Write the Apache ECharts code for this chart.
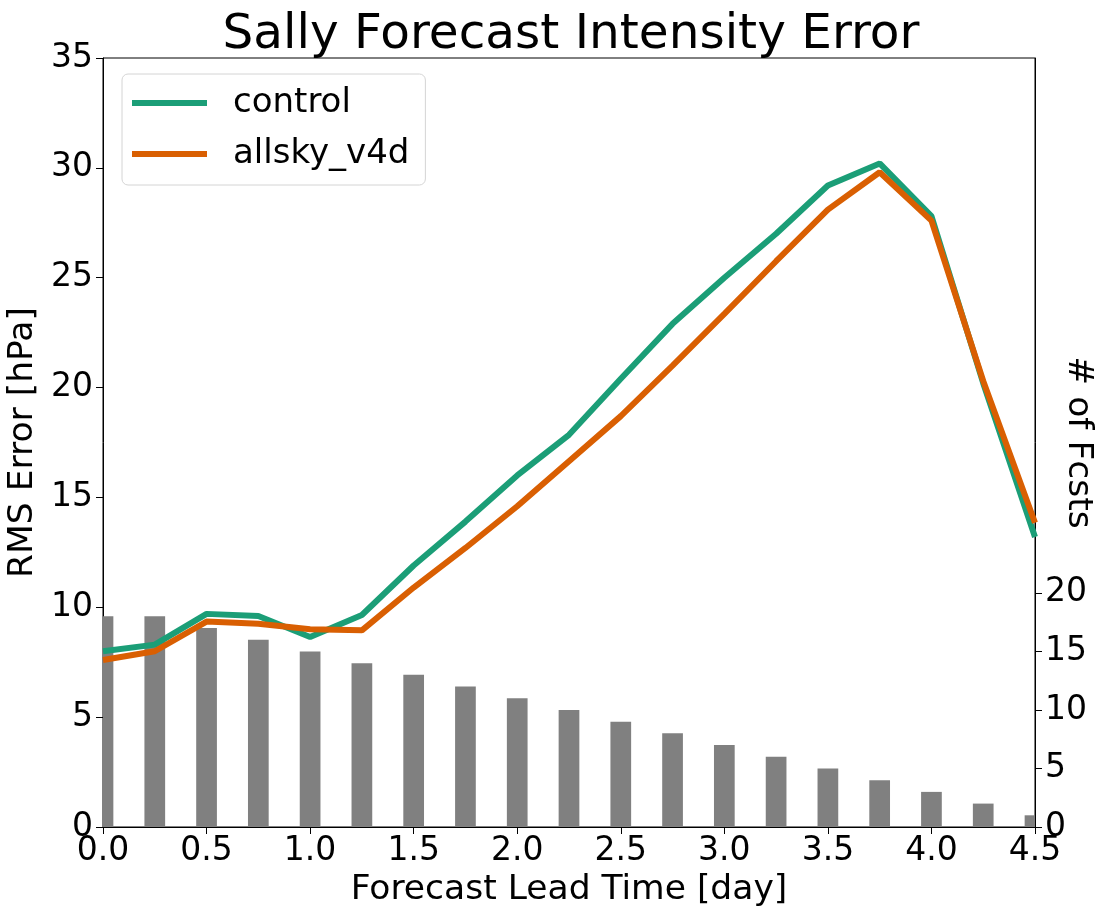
<!DOCTYPE html>
<html>
<head>
<meta charset="utf-8">
<script src="https://cdn.jsdelivr.net/npm/echarts@6/dist/echarts.min.js"></script>
<style>
    html, body { margin: 0; padding: 0; background: #fff; }
    #chart { width: 1103px; height: 920px; }
</style>
</head>
<body>
<div id="chart"></div>
<script>
// lead times in days
var leadTime = [0, 0.25, 0.5, 0.75, 1.0, 1.25, 1.5, 1.75, 2.0, 2.25, 2.5, 2.75, 3.0, 3.25, 3.5, 3.75, 4.0, 4.25, 4.5];
// RMS error [hPa]
var control = [8.0, 8.3, 9.7, 9.6, 8.65, 9.65, 11.9, 13.9, 16.0, 17.85, 20.4, 22.9, 25.0, 27.0, 29.2, 30.2, 27.8, 20.2, 13.2];
var allsky = [7.6, 8.0, 9.35, 9.25, 9.0, 8.95, 10.9, 12.7, 14.6, 16.65, 18.7, 21.0, 23.35, 25.75, 28.1, 29.8, 27.6, 20.3, 13.85];
// number of forecasts
var fcstCount = [18, 18, 17, 16, 15, 14, 13, 12, 11, 10, 9, 8, 7, 6, 5, 4, 3, 2, 1];
var countTicks = [0, 5, 10, 15, 20];

var barHalfWidth = 0.05; // days

function pairs(xs, ys) {
    return xs.map(function (x, i) { return [x, ys[i]]; });
}

// bars drawn in axis units and clipped to the plot area (matplotlib style)
function renderBar(params, api) {
    var x = api.value(0);
    var y = api.value(1);
    var p0 = api.coord([x - barHalfWidth, 0]);
    var p1 = api.coord([x + barHalfWidth, y]);
    var rect = echarts.graphic.clipRectByRect({
        x: p0[0],
        y: p1[1],
        width: p1[0] - p0[0],
        height: p0[1] - p1[1]
    }, {
        x: params.coordSys.x,
        y: params.coordSys.y,
        width: params.coordSys.width,
        height: params.coordSys.height
    });
    return rect && {
        type: 'rect',
        shape: rect,
        style: { fill: '#808080' }
    };
}

var font = 'DejaVu Sans';
var chart = echarts.init(document.getElementById('chart'));

var option = {
    animation: false,
    textStyle: { fontFamily: font, color: '#000' },
    title: {
        text: 'Sally Forecast Intensity Error',
        left: 566,
        textAlign: 'center',
        top: 6,
        textStyle: { fontFamily: font, fontSize: 48.5, fontWeight: 'normal', color: '#000' }
    },
    legend: {
        orient: 'vertical',
        left: 122,
        top: 74,
        padding: [12, 16, 14, 10],
        itemGap: 17,
        itemWidth: 75,
        itemHeight: 6,
        icon: 'rect',
        borderColor: '#d4d4d4',
        borderWidth: 1,
        borderRadius: 6,
        backgroundColor: 'rgba(255,255,255,0.8)',
        data: ['control', 'allsky_v4d'],
        textStyle: { fontFamily: font, fontSize: 34, color: '#000', padding: [0, 0, 0, 21] }
    },
    grid: {
        left: 103,
        right: 68,
        top: 58,
        bottom: 93,
        outerBoundsMode: 'none',
        containLabel: false,
        show: true,
        borderColor: '#000',
        borderWidth: 1,
        backgroundColor: 'transparent'
    },
    xAxis: {
        type: 'value',
        min: 0,
        max: 4.5,
        interval: 0.5,
        name: 'Forecast Lead Time [day]',
        nameLocation: 'middle',
        nameGap: 46,
        nameTextStyle: { fontFamily: font, fontSize: 34.5, color: '#000' },
        axisLine: { show: true, lineStyle: { color: '#000', width: 1 } },
        axisTick: { show: true, length: 7, lineStyle: { color: '#000' } },
        axisLabel: {
            fontFamily: font, fontSize: 33, color: '#000', margin: 8,
            formatter: function (v) { return v.toFixed(1); }
        },
        splitLine: { show: false }
    },
    yAxis: [
        {
            type: 'value',
            min: 0,
            max: 35,
            interval: 5,
            position: 'left',
            name: 'RMS Error [hPa]',
            nameLocation: 'middle',
            nameGap: 59,
            nameTextStyle: { fontFamily: font, fontSize: 34.5, color: '#000' },
            axisLine: { show: true, lineStyle: { color: '#000', width: 1 } },
            axisTick: { show: true, length: 7, lineStyle: { color: '#000' } },
            axisLabel: { fontFamily: font, fontSize: 33, color: '#000', margin: 10 },
            splitLine: { show: false }
        },
        {
            type: 'value',
            min: 0,
            max: 65.7,
            position: 'right',
            name: '# of Fcsts',
            nameLocation: 'middle',
            nameRotate: -90,
            nameGap: 25,
            nameMoveOverlap: false,
            nameTextStyle: { fontFamily: font, fontSize: 34.5, color: '#000' },
            axisLine: { show: true, lineStyle: { color: '#000', width: 1 } },
            axisTick: { show: true, length: 7, customValues: countTicks, lineStyle: { color: '#000' } },
            axisLabel: { fontFamily: font, fontSize: 33, color: '#000', margin: 10, customValues: countTicks },
            splitLine: { show: false }
        }
    ],
    series: [
        {
            name: 'count',
            type: 'custom',
            yAxisIndex: 1,
            renderItem: renderBar,
            encode: { x: 0, y: 1 },
            data: pairs(leadTime, fcstCount),
            z: 1
        },
        {
            name: 'control',
            type: 'line',
            color: '#1b9e77',
            symbol: 'none',
            clip: true,
            lineStyle: { width: 6, color: '#1b9e77' },
            data: pairs(leadTime, control),
            z: 3
        },
        {
            name: 'allsky_v4d',
            type: 'line',
            color: '#d95f02',
            symbol: 'none',
            clip: true,
            lineStyle: { width: 6, color: '#d95f02' },
            data: pairs(leadTime, allsky),
            z: 4
        }
    ]
};

chart.setOption(option);
</script>
</body>
</html>
